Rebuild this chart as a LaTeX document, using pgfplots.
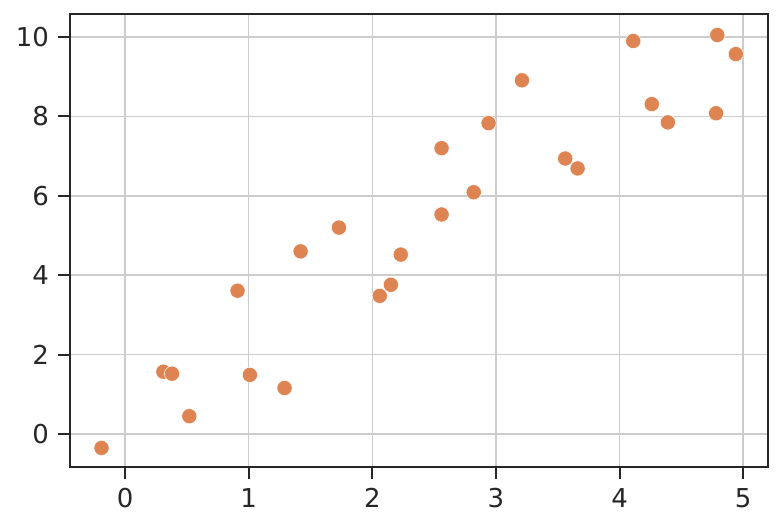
\documentclass[border=0pt]{standalone}
\usepackage{fontspec}
\setmainfont{DejaVu Sans}
\usepackage{pgfplots}
\pgfplotsset{compat=1.18}
\definecolor{dotc}{HTML}{DD8452}
\definecolor{ink}{HTML}{262626}
\definecolor{gridc}{HTML}{CCCCCC}
\begin{document}
\begin{tikzpicture}
\begin{axis}[
  scale only axis,
  width=349pt, height=226.5pt,
  xmin=-0.445, xmax=5.2,
  ymin=-0.83, ymax=10.58,
  xtick={0,1,2,3,4,5},
  ytick={0,2,4,6,8,10},
  xtick pos=left, ytick pos=left,
  tick align=outside,
  major tick length=6pt,
  every tick/.style={ink, line width=1pt},
  axis line style={ink, line width=1pt},
  grid=major,
  major grid style={gridc, line width=0.8pt},
  tick label style={font=\fontsize{13}{15}\selectfont, text=ink},
  /pgf/number format/assume math mode=true,
  xticklabel style={yshift=-1pt},
  yticklabel style={xshift=-1pt},
]
\addplot[only marks, mark=*, mark size=3.8pt,
  mark options={fill=dotc, draw=white, line width=0.25pt}]
  coordinates {
  (-0.19,-0.35) (0.31,1.57) (0.38,1.52) (0.52,0.45) (0.91,3.61)
  (1.01,1.49) (1.29,1.16) (1.42,4.60) (1.73,5.20) (2.06,3.48)
  (2.15,3.76) (2.23,4.52) (2.56,7.20) (2.56,5.53) (2.82,6.09)
  (2.94,7.83) (3.21,8.91) (3.56,6.94) (3.66,6.69) (4.11,9.90)
  (4.26,8.31) (4.39,7.85) (4.78,8.08) (4.79,10.05) (4.94,9.57)
  };
\end{axis}
\useasboundingbox ([shift={(-35pt,-30.5pt)}]current axis.south west)
  rectangle ([shift={(7pt,7pt)}]current axis.north east);
\end{tikzpicture}
\end{document}
